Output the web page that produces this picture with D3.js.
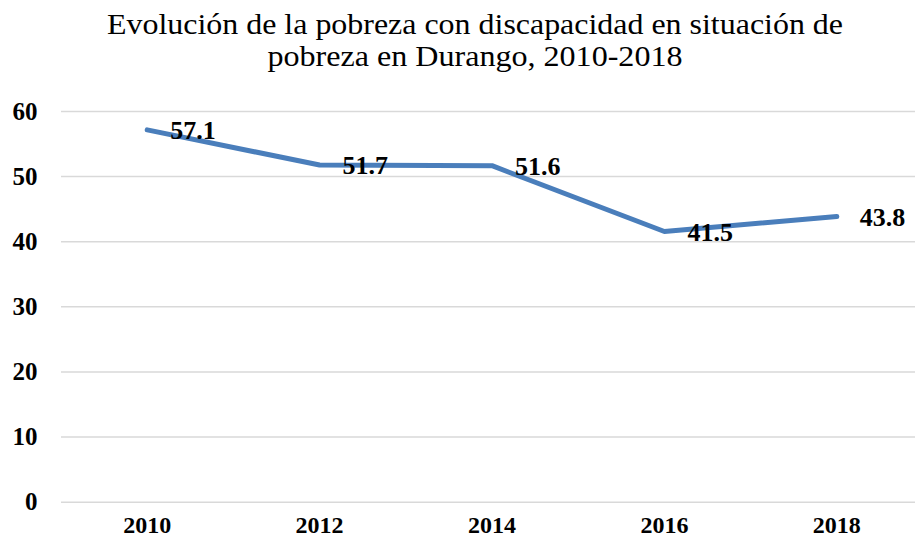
<html><head>
    <script src="https://d3js.org/d3.v7.min.js"></script>
    <style>
      body { margin: 0; background: #fff; }
      .grid line { stroke: #d9d9d9; stroke-width: 1.5px; }
      .grid .domain { stroke: none; }
      .axis .domain, .axis line { stroke: none; }
    </style>
  </head>
  <body>
    <script>
        // Data
        const years = ["2010", "2012", "2014", "2016", "2018"]
        const values = [57.1, 51.7, 51.6, 41.5, 43.8]
        const yTicks = [0, 10, 20, 30, 40, 50, 60]
        const titleLines = ["Evolución de la pobreza con discapacidad en situación de",
                            "pobreza en Durango, 2010-2018"]

        const svg = d3.select("body")
                        .append("svg")
                        .attr("width", 915)
                        .attr("height", 540)

        const fontFam = "Liberation Serif"

        //Scales
        const x = d3.scaleBand()
                    .domain(years)
                    .range([61, 923])
        const y = d3.scaleLinear()
                    .domain([0, 60])
                    .range([501.7, 111])

        //Title (original is a bit wider than plain 30px Times)
        const titleWidths = [736, 415]
        svg.append("g").selectAll("text").data(titleLines)
            .join("text")
            .attr("x", 475)
            .attr("y", (d, i) => 34 + i * 32)
            .attr("text-anchor", "middle")
            .attr("textLength", (d, i) => titleWidths[i])
            .attr("lengthAdjust", "spacingAndGlyphs")
            .style("font-family", fontFam)
            .style("font-size", "30px")
            .text(d => d)

        //Gridlines
        svg.append("g")
            .attr("class", "grid")
            .attr("transform", "translate(61,0)")
            .call(d3.axisLeft(y).tickValues(yTicks).tickSize(-880).tickFormat(""))

        //Y axis labels
        svg.append("g")
            .attr("class", "axis")
            .attr("transform", "translate(37.5,0)")
            .call(d3.axisLeft(y).tickValues(yTicks).tickSize(0).tickPadding(0))
            .selectAll("text")
            .style("font-family", fontFam)
            .style("font-weight", "bold")
            .style("font-size", "25px")
            .style("fill", "#000")

        //X axis labels
        svg.append("g")
            .attr("class", "axis")
            .attr("transform", "translate(0,516)")
            .call(d3.axisBottom(x).tickSize(0).tickPadding(0))
            .selectAll("text")
            .attr("dy", "0.71em")
            .style("font-family", fontFam)
            .style("font-weight", "bold")
            .style("font-size", "24px")
            .style("fill", "#000")

        //Line
        const line = d3.line()
                        .x((d, i) => x(years[i]) + x.bandwidth() / 2)
                        .y(d => y(d))

        svg.append("path")
            .datum(values)
            .attr("d", line)
            .attr("fill", "none")
            .attr("stroke", "#4a7ebb")
            .attr("stroke-width", 5)
            .attr("stroke-linejoin", "round")
            .attr("stroke-linecap", "round")

        //Data labels
        svg.append("g").selectAll("text").data(values)
            .join("text")
            .attr("x", (d, i) => x(years[i]) + x.bandwidth() / 2 + 23)
            .attr("y", d => y(d))
            .attr("dy", "0.35em")
            .style("font-family", fontFam)
            .style("font-weight", "bold")
            .style("font-size", "26px")
            .text(d => d.toFixed(1))
    </script>
  </body></html>
